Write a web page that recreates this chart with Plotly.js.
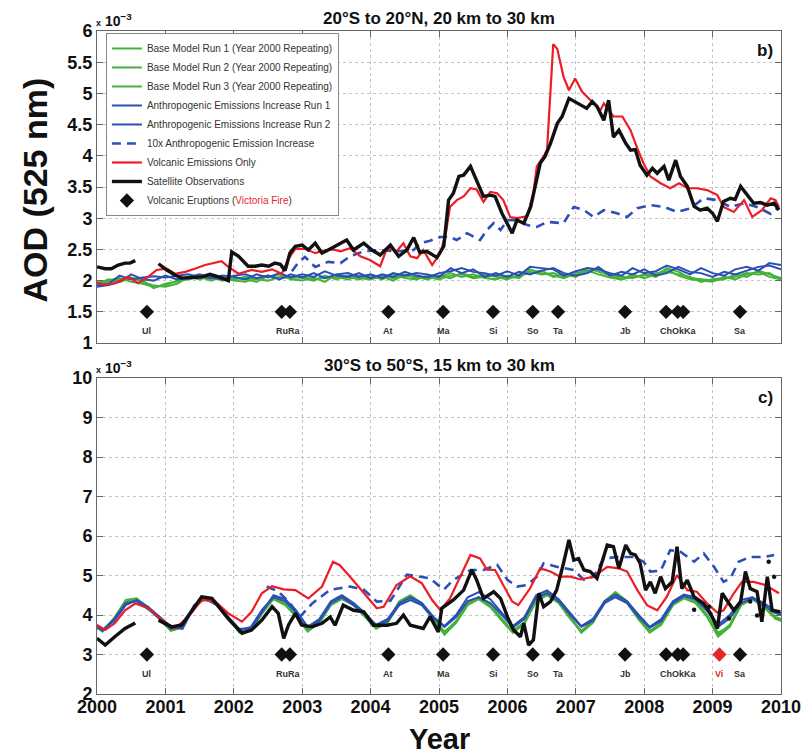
<!DOCTYPE html>
<html><head><meta charset="utf-8">
<script src="https://cdn.plot.ly/plotly-3.0.1.min.js"></script>
<style>html,body{margin:0;padding:0;background:#fff}#chart{width:802px;height:755px}</style>
</head><body><div id="chart"></div><script>
// ---------- shared ----------
const yearTicks = [2000,2001,2002,2003,2004,2005,2006,2007,2008,2009,2010];
const yearTickText = ['2000','2001','2002','2003','2004','2005','2006','2007','2008','2009','2010'];
const topTicks = [1,1.5,2,2.5,3,3.5,4,4.5,5,5.5,6];
const topTickText = ['1','1.5','2','2.5','3','3.5','4','4.5','5','5.5','6'];
const botTicks = [2,3,4,5,6,7,8,9,10];
const botTickText = ['2','3','4','5','6','7','8','9','10'];

const seriesNames = ['Base Model Run 1 (Year 2000 Repeating)','Base Model Run 2 (Year 2000 Repeating)','Base Model Run 3 (Year 2000 Repeating)',
  'Anthropogenic Emissions Increase Run 1','Anthropogenic Emissions Increase Run 2','10x Anthropogenic Emission Increase',
  'Volcanic Emissions Only','Satellite Observations','Volcanic Eruptions (<span style="color:#e3262b">Victoria Fire</span>)'];

// volcanic eruptions
const eruptX = [2000.73,2002.70,2002.82,2004.26,2005.06,2005.79,2006.37,2006.74,2007.72,2008.32,2008.49,2008.57,2009.10,2009.40];
const eruptName = ['Ul','Ru','Ra','At','Ma','Si','So','Ta','Jb','Ch','Ok','Ka','Vi','Sa'];
const labelText = ['Ul','RuRa','At','Ma','Si','So','Ta','Jb','ChOkKa','Vi','Sa'];
const labelX = [2000.73,2002.79,2004.26,2005.06,2005.79,2006.37,2006.74,2007.72,2008.50,2009.10,2009.40];
const eruptLevelTop = 1.5;
const eruptLevelBot = 3;

// ---------- panel b: 20S-20N, 20-30 km ----------
const tTop = [2000.00,2000.17,2000.33,2000.50,2000.67,2000.83,
 2001.00,2001.17,2001.33,2001.50,2001.67,2001.83,
 2002.00,2002.17,2002.33,2002.50,2002.67,2002.83,
 2003.00,2003.17,2003.33,2003.50,2003.67,2003.83,
 2004.00,2004.17,2004.33,2004.50,2004.67,2004.83,
 2005.00,2005.17,2005.33,2005.50,2005.67,2005.83,
 2006.00,2006.17,2006.33,2006.50,2006.67,2006.83,
 2007.00,2007.17,2007.33,2007.50,2007.67,2007.83,
 2008.00,2008.17,2008.33,2008.50,2008.67,2008.83,
 2009.00,2009.17,2009.33,2009.50,2009.67,2009.83,
 2010.00];
const topGreen1 = [1.95,1.98,2.02,2.05,1.98,1.92, 1.90,1.95,2.05,2.08,2.02,2.04, 2.00,1.98,2.04,2.06,2.10,2.02,
 2.00,2.05,1.98,2.10,2.06,2.02, 2.08,2.02,2.10,2.04,2.02,2.08, 2.05,2.12,2.06,2.10,2.04,2.02,
 2.08,2.04,2.18,2.12,2.08,2.04, 2.12,2.16,2.10,2.05,2.02,2.10, 2.04,2.10,2.18,2.08,2.02,2.00,
 1.98,2.06,2.02,2.10,2.14,2.06, 2.02];
const topGreen2 = [1.97,2.00,2.04,1.98,1.95,1.90, 1.92,2.00,2.06,2.02,2.08,2.00, 2.04,2.02,1.98,2.08,2.04,2.06,
 2.04,2.00,2.08,2.02,2.08,2.04, 2.02,2.08,2.04,2.08,2.06,2.02, 2.08,2.04,2.12,2.06,2.10,2.06,
 2.02,2.10,2.12,2.16,2.06,2.10, 2.06,2.20,2.14,2.08,2.06,2.04, 2.10,2.06,2.20,2.14,2.04,2.02,
 2.00,2.02,2.10,2.06,2.16,2.10, 2.04];
const topGreen3 = [1.94,2.02,1.98,2.04,2.00,1.88, 1.95,1.98,2.02,2.06,2.00,2.06, 2.02,2.06,2.02,2.00,2.06,2.04,
 2.06,2.02,2.04,2.06,2.02,2.08, 2.04,2.06,2.00,2.10,2.04,2.06, 2.02,2.08,2.10,2.04,2.06,2.08,
 2.04,2.06,2.14,2.10,2.12,2.06, 2.10,2.14,2.18,2.10,2.02,2.06, 2.08,2.12,2.14,2.10,2.06,1.98,
 2.02,2.04,2.06,2.12,2.10,2.12, 2.00];
const topBlue1 = [1.92,1.95,2.08,2.02,2.05,2.07, 2.05,2.08,2.10,2.06,2.04,2.08, 2.06,2.02,2.10,2.05,2.12,2.05,
 2.10,2.06,2.15,2.08,2.06,2.12, 2.04,2.10,2.06,2.14,2.08,2.05, 2.12,2.15,2.20,2.14,2.12,2.08,
 2.15,2.08,2.22,2.20,2.18,2.08, 2.15,2.20,2.18,2.12,2.08,2.20, 2.12,2.15,2.24,2.18,2.10,2.20,
 2.12,2.08,2.18,2.22,2.16,2.28, 2.25];
const topBlue2 = [1.90,1.93,1.98,2.10,2.02,2.00, 2.08,2.02,2.05,2.10,2.05,2.02, 2.08,2.10,2.04,2.08,2.02,2.10,
 2.05,2.12,2.04,2.10,2.12,2.06, 2.10,2.04,2.12,2.08,2.12,2.10, 2.06,2.20,2.12,2.18,2.06,2.12,
 2.06,2.14,2.10,2.16,2.20,2.12, 2.08,2.12,2.22,2.08,2.14,2.10, 2.18,2.08,2.12,2.22,2.14,2.12,
 2.06,2.14,2.10,2.16,2.22,2.24, 2.18];
const topDashX = [2002.85,2002.95,2003.04,2003.19,2003.38,2003.56,2003.70,2003.90,2004.14,2004.38,2004.63,2004.72,2004.87,
 2005.02,2005.16,2005.26,2005.41,2005.60,2005.70,2005.80,2005.90,2006.00,2006.14,2006.29,2006.43,2006.58,2006.82,2006.97,
 2007.12,2007.26,2007.41,2007.60,2007.75,2007.90,2008.09,2008.29,2008.48,2008.68,2008.87,2009.07,2009.26,2009.46,2009.65,2009.85,2009.97];
const topDashY = [2.15,2.30,2.38,2.22,2.30,2.28,2.39,2.47,2.49,2.47,2.49,2.60,2.64,
 2.70,2.70,2.65,2.76,2.65,2.81,2.92,2.81,2.97,2.97,2.89,2.86,2.94,2.92,3.18,
 3.13,3.02,3.13,3.08,3.02,3.16,3.21,3.18,3.10,3.16,3.32,3.29,3.18,3.24,3.18,3.07,3.18];
const topRedX = [2000.00,2000.12,2000.26,2000.46,2000.60,2000.75,2000.87,2001.02,2001.14,2001.29,2001.43,2001.58,2001.82,2001.92,
 2002.07,2002.26,2002.41,2002.56,2002.70,2002.80,2002.90,2003.04,2003.19,2003.34,2003.45,2003.56,2003.70,2003.85,2003.99,
 2004.14,2004.24,2004.38,2004.48,2004.58,2004.68,2004.77,2004.90,2005.02,2005.10,2005.16,2005.26,2005.36,2005.46,2005.55,
 2005.65,2005.75,2005.85,2005.94,2006.04,2006.14,2006.29,2006.38,2006.43,2006.53,2006.58,2006.67,2006.73,2006.82,2006.90,
 2006.99,2007.09,2007.21,2007.36,2007.41,2007.55,2007.68,2007.80,2007.90,2007.99,2008.09,2008.24,2008.38,2008.51,2008.63,
 2008.77,2008.92,2009.07,2009.16,2009.31,2009.46,2009.58,2009.72,2009.85,2009.92,2009.97];
const topRedY = [1.97,1.93,1.96,2.06,1.96,2.06,2.17,2.19,2.11,2.14,2.19,2.25,2.31,2.22,
 2.11,2.17,2.14,2.18,2.11,2.35,2.51,2.51,2.44,2.49,2.50,2.47,2.52,2.39,2.33,
 2.23,2.52,2.47,2.60,2.39,2.36,2.49,2.25,2.44,2.76,3.18,3.29,3.35,3.48,3.46,
 3.26,3.42,3.40,3.29,3.02,3.00,3.03,3.40,3.83,3.99,4.10,5.79,5.71,5.27,5.05,
 5.24,5.03,4.89,4.73,4.84,4.63,4.63,4.41,4.12,3.88,3.67,3.56,3.48,3.56,3.48,
 3.48,3.45,3.37,3.18,3.10,3.29,3.02,3.13,3.32,3.29,3.18];
const topObsX = [2000.00,2000.12,2000.21,2000.31,2000.41,2000.48,2000.56,2000.73,2000.90,2001.02,2001.14,2001.24,2001.39,2001.53,
 2001.65,2001.78,2001.92,2001.97,2002.07,2002.21,2002.31,2002.41,2002.51,2002.60,2002.68,2002.75,2002.82,2002.90,2003.00,
 2003.09,2003.19,2003.29,2003.38,2003.51,2003.65,2003.75,2003.90,2004.02,2004.14,2004.29,2004.41,2004.53,2004.63,2004.72,
 2004.82,2004.97,2005.07,2005.14,2005.21,2005.29,2005.36,2005.46,2005.55,2005.65,2005.75,2005.82,2005.92,2006.07,2006.14,
 2006.24,2006.34,2006.48,2006.55,2006.63,2006.73,2006.80,2006.90,2007.02,2007.16,2007.24,2007.31,2007.41,2007.48,2007.55,
 2007.63,2007.73,2007.80,2007.87,2007.94,2008.04,2008.12,2008.19,2008.29,2008.36,2008.46,2008.53,2008.63,2008.73,2008.82,
 2008.92,2009.00,2009.07,2009.16,2009.26,2009.33,2009.41,2009.51,2009.60,2009.70,2009.80,2009.90,2009.97];
const topObsY = [2.22,2.19,2.19,2.25,2.28,2.28,2.32,null,2.27,2.17,2.09,2.04,2.05,2.06,
 2.10,2.06,2.00,2.46,2.39,2.23,2.23,2.25,2.23,2.28,2.26,2.16,2.44,2.55,2.57,
 2.49,2.60,2.44,2.49,2.57,2.65,2.49,2.60,2.49,2.41,2.57,2.39,2.49,2.69,2.45,
 2.47,2.37,2.55,3.29,3.40,3.67,3.69,3.83,3.61,3.35,3.37,3.35,3.08,2.76,2.97,
 2.92,3.18,3.88,3.99,4.20,4.52,4.63,4.92,4.84,4.76,4.87,4.79,4.57,4.89,4.30,
 4.41,4.20,4.09,4.10,3.85,3.69,3.80,3.72,3.83,3.61,3.93,3.67,3.51,3.19,3.13,
 3.16,3.08,2.95,3.27,3.32,3.30,3.51,3.37,3.24,3.25,3.21,3.24,3.13];

// ---------- panel c: 30S-50S, 15-30 km ----------
const tBot = [2000.00,2000.08,2000.25,2000.42,2000.58,2000.75,2000.92,
 2001.08,2001.25,2001.42,2001.58,2001.75,2001.92,
 2002.08,2002.25,2002.42,2002.58,2002.75,2002.92,
 2003.08,2003.25,2003.42,2003.58,2003.75,2003.92,
 2004.08,2004.25,2004.42,2004.58,2004.75,2004.92,
 2005.08,2005.25,2005.42,2005.58,2005.75,2005.92,
 2006.08,2006.25,2006.42,2006.58,2006.75,2006.92,
 2007.08,2007.25,2007.42,2007.58,2007.75,2007.92,
 2008.08,2008.25,2008.42,2008.58,2008.75,2008.92,
 2009.08,2009.25,2009.42,2009.58,2009.75,2009.92,
 2010.00];
const botGreen1 = [3.68,3.58,3.90,4.35,4.40,4.20,3.90, 3.62,3.70,4.20,4.42,4.28,3.90, 3.58,3.62,4.10,4.45,4.30,4.00,
 3.60,3.82,4.30,4.48,4.30,3.98, 3.68,3.85,4.35,4.50,4.30,3.90, 3.55,3.85,4.30,4.45,4.25,3.90,
 3.60,3.82,4.40,4.58,4.35,3.95, 3.55,3.80,4.35,4.58,4.35,3.90, 3.58,3.80,4.30,4.48,4.35,4.00,
 3.50,3.75,4.30,4.45,4.25,3.95, 3.90];
const botGreen2 = [3.70,3.60,3.92,4.38,4.42,4.18,3.88, 3.60,3.68,4.25,4.45,4.30,3.92, 3.55,3.60,4.05,4.40,4.25,3.95,
 3.58,3.80,4.25,4.40,4.25,3.95, 3.65,3.80,4.30,4.42,4.25,3.88, 3.50,3.80,4.25,4.40,4.20,3.85,
 3.55,3.78,4.35,4.50,4.30,3.90, 3.58,3.82,4.30,4.50,4.30,3.88, 3.55,3.75,4.25,4.42,4.30,3.95,
 3.45,3.70,4.25,4.40,4.20,3.90, 3.85];
const botGreen3 = [3.66,3.62,3.88,4.32,4.36,4.15,3.92, 3.64,3.72,4.22,4.40,4.26,3.88, 3.60,3.65,4.12,4.42,4.28,3.98,
 3.62,3.78,4.28,4.45,4.28,3.96, 3.70,3.82,4.32,4.45,4.28,3.92, 3.58,3.82,4.28,4.42,4.22,3.88,
 3.58,3.80,4.38,4.52,4.32,3.92, 3.60,3.84,4.32,4.52,4.32,3.92, 3.60,3.78,4.28,4.45,4.32,3.98,
 3.55,3.72,4.28,4.42,4.22,3.92, 3.88];
const botBlue1 = [3.72,3.62,3.85,4.25,4.38,4.20,3.95, 3.70,3.65,4.20,4.45,4.30,3.95, 3.65,3.65,4.10,4.50,4.40,4.10,
 3.70,3.90,4.35,4.50,4.30,4.05, 3.75,3.90,4.30,4.45,4.30,3.95, 3.72,4.00,4.45,4.58,4.40,4.05,
 3.72,3.95,4.50,4.62,4.40,4.05, 3.72,3.90,4.35,4.52,4.35,4.00, 3.70,3.90,4.35,4.52,4.45,4.15,
 3.75,4.00,4.38,4.45,4.30,4.10, 4.05];
const botBlue2 = [3.70,3.60,3.90,4.30,4.35,4.15,3.90, 3.65,3.70,4.25,4.42,4.25,3.90, 3.62,3.70,4.15,4.45,4.35,4.05,
 3.68,3.85,4.30,4.45,4.25,4.00, 3.72,3.85,4.25,4.38,4.25,3.92, 3.70,3.95,4.35,4.45,4.30,4.00,
 3.68,3.90,4.45,4.55,4.35,4.00, 3.70,3.85,4.30,4.45,4.30,3.95, 3.68,3.85,4.30,4.48,4.40,4.10,
 3.70,3.92,4.30,4.42,4.25,4.05, 4.00];
const botDashX = [2002.48,2002.65,2002.82,2002.97,2003.15,2003.41,2003.70,2003.90,2004.09,2004.29,2004.53,2004.87,
 2005.07,2005.21,2005.46,2005.65,2005.85,2006.00,2006.14,2006.29,2006.43,2006.53,2006.72,2006.97,
 2007.12,2007.26,2007.41,2007.60,2007.85,2007.99,2008.09,2008.24,2008.38,2008.53,2008.73,2008.87,
 2009.02,2009.16,2009.26,2009.38,2009.55,2009.75,2009.90];
const botDashY = [4.72,4.60,4.30,3.96,4.30,4.64,4.72,4.64,4.34,4.36,5.02,4.93,
 4.64,4.89,5.14,5.14,5.27,4.89,4.72,4.76,4.97,5.31,5.22,5.14,
 4.89,4.97,5.43,5.47,5.47,5.35,5.10,5.12,5.64,5.60,5.35,5.56,
 5.22,4.84,4.93,5.35,5.47,5.47,5.52];
const botRedX = [2000.00,2000.12,2000.26,2000.41,2000.56,2000.75,2000.95,2001.14,2001.34,2001.53,2001.73,2001.92,
 2002.12,2002.26,2002.41,2002.56,2002.73,2002.90,2003.09,2003.29,2003.45,2003.55,2003.70,2003.90,
 2004.09,2004.19,2004.38,2004.58,2004.75,2004.90,2005.02,2005.16,2005.31,2005.46,2005.60,2005.70,
 2005.82,2005.95,2006.07,2006.16,2006.33,2006.48,2006.63,2006.77,2006.92,2007.07,2007.26,2007.46,
 2007.63,2007.75,2007.90,2008.04,2008.19,2008.33,2008.48,2008.63,2008.77,2008.92,2009.07,2009.16,
 2009.31,2009.43,2009.60,2009.77,2009.90,2009.97];
const botRedY = [3.75,3.62,3.79,4.12,4.29,4.17,3.87,3.66,3.96,4.38,4.34,4.04,
 3.83,4.08,4.55,4.73,4.65,4.63,4.42,4.72,5.35,5.26,4.97,4.55,
 4.17,4.21,4.76,4.98,4.80,4.38,4.12,4.42,4.97,5.52,5.43,5.15,
 5.14,4.72,4.34,4.25,4.67,5.18,5.10,4.97,4.97,4.90,4.97,5.22,
 5.18,5.10,4.63,4.25,4.12,4.46,5.01,4.63,4.59,4.29,4.06,4.12,
 4.55,4.84,4.84,4.76,4.63,4.55];
const botObsX = [2000.00,2000.12,2000.26,2000.41,2000.56,2000.73,2000.90,2001.09,2001.24,2001.39,2001.53,2001.68,
 2001.92,2002.12,2002.26,2002.41,2002.56,2002.65,2002.73,2002.80,2002.90,2002.99,2003.14,2003.29,
 2003.41,2003.48,2003.60,2003.75,2003.90,2004.04,2004.24,2004.38,2004.48,2004.58,2004.77,2004.87,
 2004.99,2005.04,2005.21,2005.36,2005.48,2005.55,2005.65,2005.80,2005.90,2006.00,2006.09,2006.19,
 2006.24,2006.31,2006.38,2006.46,2006.53,2006.63,2006.72,2006.82,2006.90,2006.97,2007.04,2007.12,
 2007.21,2007.31,2007.46,2007.55,2007.63,2007.73,2007.80,2007.87,2007.94,2008.02,2008.09,2008.16,
 2008.24,2008.31,2008.41,2008.48,2008.55,2008.63,2008.73,2008.87,2008.97,2009.07,2009.14,2009.24,
 2009.31,2009.41,2009.48,2009.55,2009.65,2009.72,2009.80,2009.87,2009.99];
const botObsY = [3.41,3.24,3.45,3.66,3.80,null,3.87,3.70,3.75,4.12,4.46,4.42,
 3.91,3.54,3.62,3.87,4.21,4.04,3.41,3.75,4.04,3.75,3.70,3.79,
 3.95,3.74,4.25,4.12,4.08,3.74,3.74,3.79,4.00,3.74,3.66,3.96,
 3.57,4.17,4.38,4.63,5.14,4.89,4.42,4.59,4.42,3.96,3.62,3.45,
 3.79,3.24,3.37,4.55,4.21,4.34,4.63,5.31,5.90,5.39,5.43,5.14,
 5.10,4.93,5.77,5.73,5.18,5.77,5.56,5.52,5.31,4.63,4.84,4.55,
 4.97,4.67,4.84,5.73,4.67,4.88,4.46,4.29,4.04,3.66,4.55,4.29,
 4.12,4.34,5.10,4.67,4.59,3.83,4.97,4.12,4.08];
// isolated satellite samples (dots) late in the record
const botObsDotX = [2008.73,2008.95,2009.24,2009.55,2009.65,2009.82,2009.90];
const botObsDotY = [4.13,4.21,3.91,4.34,3.99,5.35,4.97];

// ---------- styles ----------
const GREEN = '#45b23a', BLUE = '#2b4fb6', RED = '#ee1d25', BLACK = '#111111', VICRED = '#e3262b';
const FONT = 'Liberation Sans, Arial, Helvetica, sans-serif';

function ln(x, y, color, width, dash, xa, ya, name, show, group) {
  return {type:'scatter', mode:'lines', x:x, y:y, xaxis:xa, yaxis:ya, name:name, showlegend:show,
    legendgroup:group, line:{color:color, width:width, dash:dash}, hoverinfo:'skip'};
}

const data = [];
const panels = [
  {xa:'x', ya:'y', show:true, t:tTop, g:[topGreen1,topGreen2,topGreen3], b:[topBlue1,topBlue2],
   dx:topDashX, dy:topDashY, rx:topRedX, ry:topRedY, ox:topObsX, oy:topObsY, level:eruptLevelTop, withVic:false},
  {xa:'x2', ya:'y2', show:false, t:tBot, g:[botGreen1,botGreen2,botGreen3], b:[botBlue1,botBlue2],
   dx:botDashX, dy:botDashY, rx:botRedX, ry:botRedY, ox:botObsX, oy:botObsY, level:eruptLevelBot, withVic:true,
   dotx:botObsDotX, doty:botObsDotY}
];
const annotations = [];
panels.forEach(p => {
  p.g.forEach((s,i) => data.push(ln(p.t, s, GREEN, 2, 'solid', p.xa, p.ya, seriesNames[i], p.show, 'g'+i)));
  p.b.forEach((s,i) => data.push(ln(p.t, s, BLUE, 2, 'solid', p.xa, p.ya, seriesNames[3+i], p.show, 'b'+i)));
  data.push(ln(p.dx, p.dy, BLUE, 2.6, '9px,6px', p.xa, p.ya, seriesNames[5], p.show, 'd'));
  data.push(ln(p.rx, p.ry, RED, 2.2, 'solid', p.xa, p.ya, seriesNames[6], p.show, 'r'));
  data.push(ln(p.ox, p.oy, BLACK, 3.4, 'solid', p.xa, p.ya, seriesNames[7], p.show, 'o'));
  if (p.dotx) {
    data.push({type:'scatter', mode:'markers', x:p.dotx, y:p.doty, xaxis:p.xa, yaxis:p.ya, name:seriesNames[7],
      showlegend:false, legendgroup:'o', hoverinfo:'skip', marker:{size:4.5, color:BLACK}});
  }
  const ex = [], ec = [];
  eruptX.forEach((x,i) => {
    if (eruptName[i] === 'Vi' && !p.withVic) return;
    ex.push(x); ec.push(eruptName[i] === 'Vi' ? VICRED : BLACK);
  });
  data.push({type:'scatter', mode:'markers', x:ex, y:ex.map(() => p.level), xaxis:p.xa, yaxis:p.ya,
    name:seriesNames[8], showlegend:p.show, legendgroup:'e', hoverinfo:'skip',
    marker:{symbol:'diamond', size:11, color:ec, line:{width:0}}});
  labelText.forEach((t,i) => {
    if (t === 'Vi' && !p.withVic) return;
    annotations.push({xref:p.xa, yref:p.ya, x:labelX[i], y:p.level, yshift:-19, text:t, showarrow:false,
      font:{family:FONT, size:9, color:(t === 'Vi' ? VICRED : '#333'), weight:'bold'}});
  });
});

// panel decorations
const dTop = [0.5294, 1], dBot = [0, 0.4766];
annotations.push(
  {xref:'paper', yref:'paper', x:0.5, y:dTop[1], yshift:13, yanchor:'middle', showarrow:false,
   text:'20°S to 20°N, 20 km to 30 km', font:{family:FONT, size:17, color:'#111', weight:'bold'}},
  {xref:'paper', yref:'paper', x:0.5, y:dBot[1], yshift:13, yanchor:'middle', showarrow:false,
   text:'30°S to 50°S, 15 km to 30 km', font:{family:FONT, size:17, color:'#111', weight:'bold'}},
  {xref:'paper', yref:'paper', x:0, y:dTop[1], xshift:-3, yshift:0, xanchor:'left', yanchor:'bottom', showarrow:false,
   text:'<span style="font-size:9px">x</span> 10<sup>−3</sup>', font:{family:FONT, size:14, color:'#111', weight:'bold'}},
  {xref:'paper', yref:'paper', x:0, y:dBot[1], xshift:-3, yshift:0, xanchor:'left', yanchor:'bottom', showarrow:false,
   text:'<span style="font-size:9px">x</span> 10<sup>−3</sup>', font:{family:FONT, size:14, color:'#111', weight:'bold'}},
  {xref:'paper', yref:'paper', x:1, y:dTop[1], xshift:-6, yshift:-8, xanchor:'right', yanchor:'top', showarrow:false,
   text:'b)', font:{family:FONT, size:17, color:'#111', weight:'bold'}},
  {xref:'paper', yref:'paper', x:1, y:dBot[1], xshift:-6, yshift:-8, xanchor:'right', yanchor:'top', showarrow:false,
   text:'c)', font:{family:FONT, size:17, color:'#111', weight:'bold'}},
  {xref:'paper', yref:'paper', x:-0.09, y:0.76, textangle:-90, xanchor:'center', yanchor:'middle', showarrow:false,
   text:'AOD (525 nm)', font:{family:FONT, size:34, color:'#111', weight:'bold'}},
  {xref:'paper', yref:'paper', x:0.5, y:-0.068, xanchor:'center', yanchor:'middle', showarrow:false,
   text:'Year', font:{family:FONT, size:29, color:'#111', weight:'bold'}}
);

const axisCommon = {showline:true, linecolor:'#666', linewidth:1, mirror:'ticks', ticks:'inside', ticklen:6,
  tickcolor:'#666', showgrid:true, gridcolor:'#c4c4c4', griddash:'dot', gridwidth:1, zeroline:false,
  tickfont:{family:FONT, size:18, color:'#111', weight:'bold'}};

const layout = {
  width:802, height:755, paper_bgcolor:'#fff', plot_bgcolor:'#fff',
  margin:{l:97, r:21, t:31, b:61},
  font:{family:FONT},
  showlegend:true,
  legend:{x:0.013, y:0.997, xref:'paper', yref:'paper', xanchor:'left', yanchor:'top', bgcolor:'#fff',
    bordercolor:'#888', borderwidth:1, font:{family:FONT, size:10, color:'#333'}, itemwidth:30, tracegroupgap:0,
    traceorder:'normal'},
  xaxis:Object.assign({}, axisCommon, {anchor:'y', range:[2000,2010], tickvals:yearTicks, ticktext:yearTickText, showticklabels:false}),
  yaxis:Object.assign({}, axisCommon, {anchor:'x', domain:dTop, range:[1,6], tickvals:topTicks, ticktext:topTickText}),
  xaxis2:Object.assign({}, axisCommon, {anchor:'y2', range:[2000,2010], tickvals:yearTicks, ticktext:yearTickText, ticklabelstandoff:-4}),
  yaxis2:Object.assign({}, axisCommon, {anchor:'x2', domain:dBot, range:[2,10], tickvals:botTicks, ticktext:botTickText}),
  annotations:annotations
};

Plotly.newPlot('chart', data, layout, {staticPlot:true, displayModeBar:false});
</script></body></html>
